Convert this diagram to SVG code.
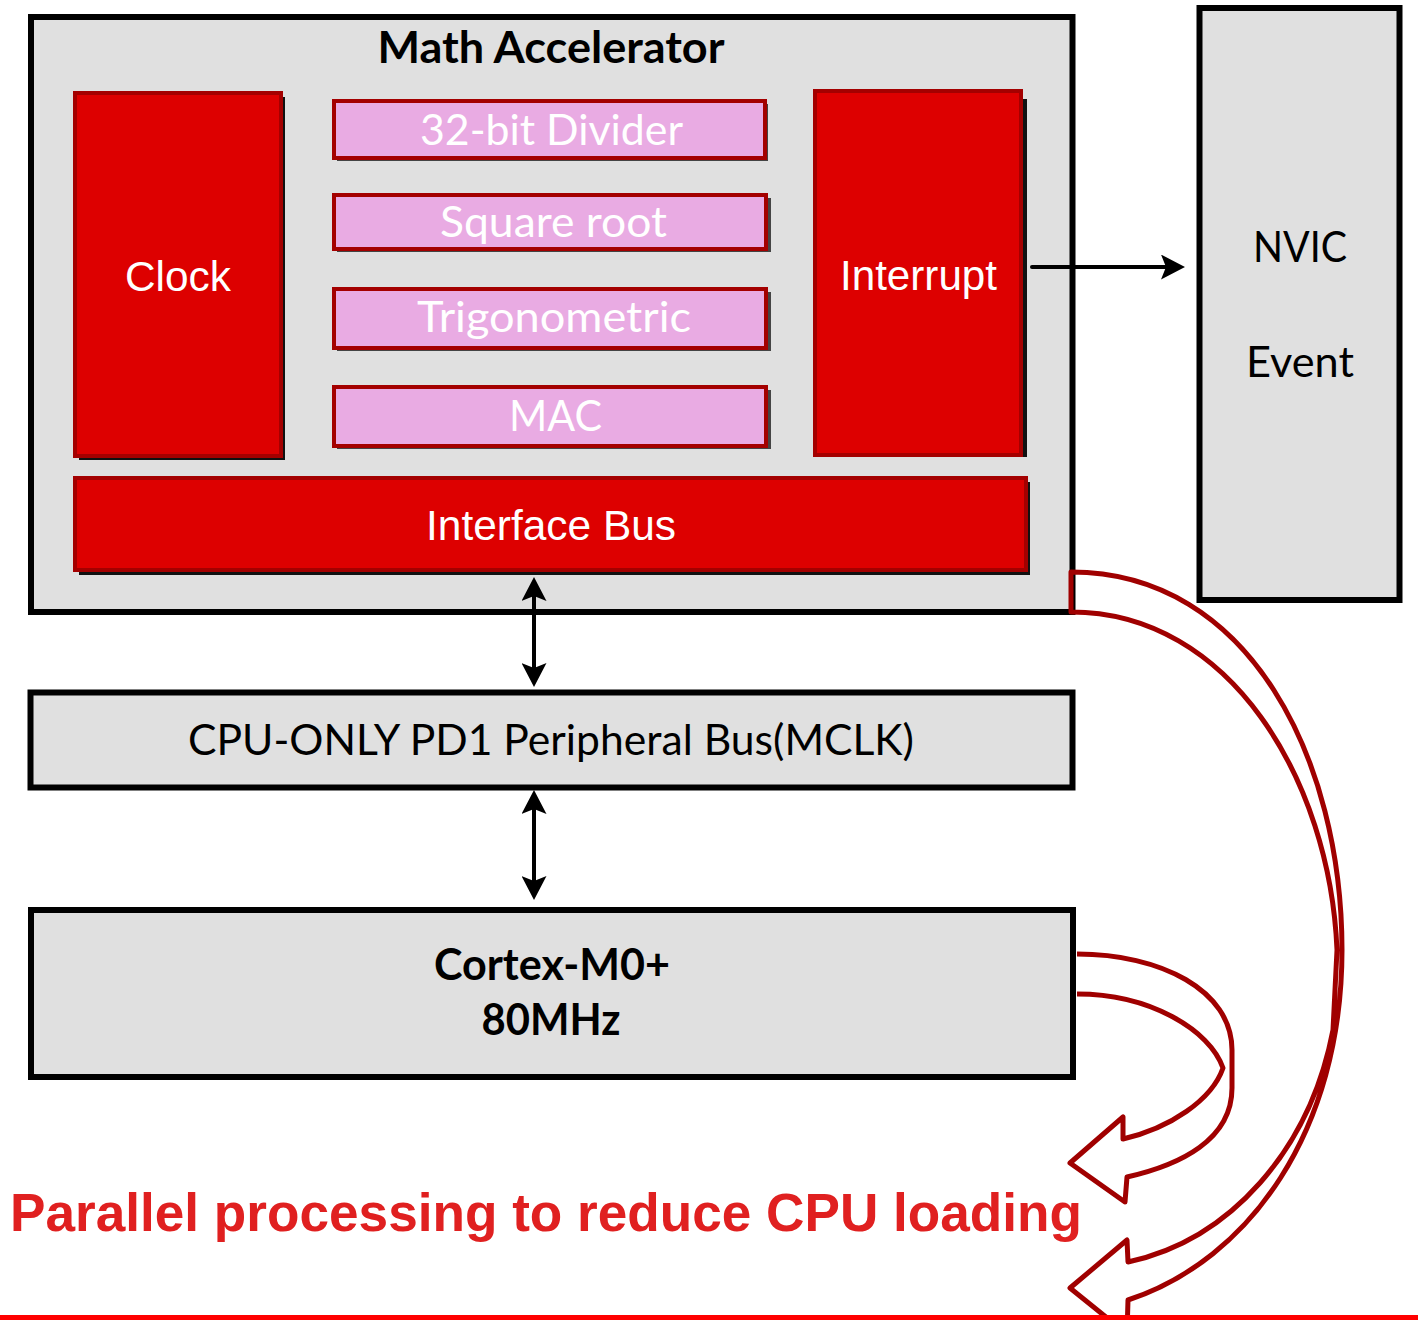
<svg xmlns="http://www.w3.org/2000/svg" width="1418" height="1320" viewBox="0 0 1418 1320">
<defs>
<style>
.box{fill:#e0e0e0;stroke:#000;stroke-width:6}
.red{fill:#dd0000;stroke:#a40000;stroke-width:4}
.pink{fill:#e9abe3;stroke:#a40000;stroke-width:4}
.sh{fill:#111}
.shp{fill:#444}
.wa{font-family:"Liberation Sans",Arial,sans-serif;font-size:43px;fill:#fff;text-anchor:middle}
.wc{font-family:Lato,"Noto Sans",sans-serif;font-size:42px;fill:#fff;text-anchor:middle}
.bc{font-family:Lato,"Noto Sans",sans-serif;font-size:43px;fill:#000;text-anchor:middle}
.bb{font-family:Lato,"Noto Sans",sans-serif;font-size:43px;font-weight:bold;fill:#000;text-anchor:middle}
.conn{stroke:#000;stroke-width:4;fill:none}
.curve{stroke:#a00000;stroke-width:5;fill:none;stroke-linejoin:round}
</style>
<marker id="ah" viewBox="0 0 24 25" refX="14" refY="12.5" markerWidth="24" markerHeight="25" markerUnits="userSpaceOnUse" orient="auto-start-reverse">
<path d="M0,0 L24,12.5 L0,25 L5,12.5 z" fill="#000"/>
</marker>
</defs>
<rect x="0" y="0" width="1418" height="1320" fill="#fff"/>

<g id="math-accelerator">
<rect class="box" x="31" y="17" width="1041.5" height="595"/>
<text class="bb" x="551" y="63" textLength="347" lengthAdjust="spacingAndGlyphs">Math Accelerator</text>
</g>

<g id="clock">
<rect class="sh" x="79" y="97" width="206" height="363"/>
<rect class="red" x="75" y="93" width="206" height="363"/>
<text class="wa" x="178" y="291" textLength="106" lengthAdjust="spacingAndGlyphs">Clock</text>
</g>

<g id="divider">
<rect class="shp" x="337" y="104" width="431" height="57"/>
<rect class="pink" x="334" y="101" width="431" height="57"/>
<text class="wc" x="551.5" y="145" textLength="263" lengthAdjust="spacingAndGlyphs">32-bit Divider</text>
</g>

<g id="square-root">
<rect class="shp" x="337" y="198" width="434" height="54"/>
<rect class="pink" x="334" y="195" width="432" height="54"/>
<text class="wc" x="553.5" y="237" textLength="227" lengthAdjust="spacingAndGlyphs">Square root</text>
</g>

<g id="trigonometric">
<rect class="shp" x="337" y="292" width="434" height="59"/>
<rect class="pink" x="334" y="289" width="432" height="59"/>
<text class="wc" x="554" y="332" textLength="274" lengthAdjust="spacingAndGlyphs">Trigonometric</text>
</g>

<g id="mac">
<rect class="shp" x="337" y="390" width="434" height="59"/>
<rect class="pink" x="334" y="387" width="432" height="59"/>
<text class="wc" x="555.5" y="431" textLength="93" lengthAdjust="spacingAndGlyphs">MAC</text>
</g>

<g id="interrupt">
<rect class="sh" x="819" y="99" width="208" height="358"/>
<rect class="red" x="815" y="91" width="206" height="364"/>
<text class="wa" x="918.5" y="290" textLength="157" lengthAdjust="spacingAndGlyphs">Interrupt</text>
</g>

<g id="interface-bus">
<rect class="sh" x="79" y="482" width="951" height="93"/>
<rect class="red" x="75" y="478" width="951" height="92"/>
<text class="wa" x="551" y="540" textLength="250" lengthAdjust="spacingAndGlyphs">Interface Bus</text>
</g>

<g id="nvic">
<rect class="box" x="1199.5" y="8" width="200" height="592" stroke-width="5"/>
<text class="bc" x="1300" y="262" textLength="94" lengthAdjust="spacingAndGlyphs">NVIC</text>
<text class="bc" x="1300" y="377" textLength="108" lengthAdjust="spacingAndGlyphs">Event</text>
</g>

<g id="peripheral-bus">
<rect class="box" x="30.5" y="692.5" width="1042" height="95" stroke-width="5"/>
<text class="bc" x="551" y="755" textLength="726" lengthAdjust="spacingAndGlyphs">CPU-ONLY PD1 Peripheral Bus(MCLK)</text>
</g>

<g id="cortex">
<rect class="box" x="31" y="910" width="1042" height="167"/>
<text class="bb" x="552" y="980" textLength="236" lengthAdjust="spacingAndGlyphs">Cortex-M0+</text>
<text class="bb" x="551" y="1035" textLength="139" lengthAdjust="spacingAndGlyphs">80MHz</text>
</g>

<g id="connectors">
<line class="conn" x1="1032" y1="267" x2="1175" y2="267" stroke-linecap="round" marker-end="url(#ah)"/>
<line class="conn" x1="534" y1="587" x2="534" y2="677" marker-start="url(#ah)" marker-end="url(#ah)"/>
<line class="conn" x1="534" y1="800" x2="534" y2="890" marker-start="url(#ah)" marker-end="url(#ah)"/>
<path class="curve" d="M1071,572 C1250,572 1342,760 1342,950 C1342,1130 1250,1260 1128,1300 L1127,1334 L1070,1288 L1127,1240 L1128,1262 C1230,1240 1310,1150 1333,1030 L1337,950 C1330,780 1230,612 1071,612 Z"/>
<path class="curve" d="M1077,954 C1160,954 1232,990 1232,1050 L1232,1088 C1232,1140 1180,1165 1127,1177 L1125,1202 L1070,1163 L1123,1117 L1123,1139 C1170,1128 1212,1100 1223,1068 C1210,1030 1150,994 1077,994"/>
</g>

<g id="caption">
<text x="10" y="1231" font-family="'Liberation Sans',Arial,sans-serif" font-weight="bold" font-size="54" fill="#e02020" textLength="1072" lengthAdjust="spacingAndGlyphs">Parallel processing to reduce CPU loading</text>
<rect x="0" y="1315" width="1418" height="5" fill="#ff0000"/>
</g>
</svg>
